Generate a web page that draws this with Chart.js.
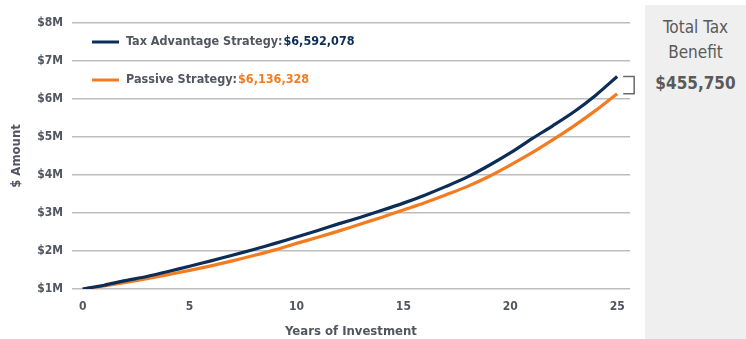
<!DOCTYPE html>
<html>
<head>
<meta charset="utf-8">
<script src="https://cdn.jsdelivr.net/npm/chart.js@4/dist/chart.umd.min.js"></script>
<style>
  html, body { margin: 0; padding: 0; background: #fff; }
  #wrap { position: relative; width: 746px; height: 339px; overflow: hidden; }
  #chartBox { position: absolute; left: 0; top: 0; width: 640px; height: 339px; }
  #side {
    position: absolute; left: 645px; top: 5px; width: 101px; height: 334px;
    background: #efefef; color: #5a5a5a; text-align: center;
    font-family: 'Liberation Sans Narrow', 'DejaVu Sans Condensed', sans-serif;
    font-size: 17px; line-height: 25px; padding-top: 10px; box-sizing: border-box;
  }
  #side .amt { font-weight: bold; display: block; margin-top: 6px; }
</style>
</head>
<body>
<div id="wrap">
  <div id="chartBox"><canvas id="c" width="640" height="339"></canvas></div>
  <div id="side">Total Tax<br>Benefit<span class="amt" id="benefit"></span></div>
</div>
<script>
// Years 0..25 of investment
const years = [0,1,2,3,4,5,6,7,8,9,10,11,12,13,14,15,16,17,18,19,20,21,22,23,24,25];
// Portfolio value in $ millions
const taxAdvantage = [1.00,1.10,1.22,1.33,1.46,1.60,1.74,1.89,2.04,2.20,2.37,2.54,2.72,2.89,3.07,3.26,3.47,3.70,3.95,4.25,4.58,4.95,5.30,5.67,6.10,6.592078];
const passive      = [1.00,1.08,1.17,1.27,1.38,1.49,1.61,1.74,1.88,2.03,2.20,2.36,2.53,2.71,2.89,3.08,3.27,3.48,3.70,3.96,4.26,4.58,4.93,5.30,5.70,6.136328];
const seriesNames  = ['Tax Advantage Strategy: ', 'Passive Strategy: '];
const finalValues  = [6592078, 6136328];
const xTicks = [0,5,10,15,20,25];
const yTicks = [1,2,3,4,5,6,7,8];

const NAVY = '#0c2d58';
const ORANGE = '#f47c20';
const GREY_TEXT = '#525660';
const FONT = "'Liberation Sans Narrow', 'DejaVu Sans Condensed', sans-serif";

const fmt = v => '$' + v.toLocaleString('en-US');
document.getElementById('benefit').textContent = fmt(finalValues[0] - finalValues[1]);

const toPoints = arr => arr.map((v, i) => ({ x: years[i], y: v }));

// Legend with two-tone text plus the bracket marking the end gap
const overlay = {
  id: 'overlay',
  afterDraw(chart) {
    const ctx = chart.ctx;
    const colors = [NAVY, ORANGE];
    const rowsY = [chart.scales.y.getPixelForValue(7.5), chart.scales.y.getPixelForValue(6.5)];
    ctx.save();
    ctx.font = "bold 12.5px " + FONT;
    ctx.textBaseline = 'middle';
    for (let i = 0; i < 2; i++) {
      const y = rowsY[i];
      ctx.strokeStyle = colors[i];
      ctx.lineWidth = 3;
      ctx.beginPath(); ctx.moveTo(92, y); ctx.lineTo(119, y); ctx.stroke();
      ctx.fillStyle = GREY_TEXT;
      ctx.fillText(seriesNames[i], 126, y);
      const w = ctx.measureText(seriesNames[i]).width;
      ctx.fillStyle = colors[i];
      ctx.fillText(fmt(finalValues[i]), 126 + w - 3, y);
    }
    // bracket
    const xs = chart.scales.x, ys = chart.scales.y;
    const xe = xs.getPixelForValue(years[years.length - 1]);
    const y1 = ys.getPixelForValue(taxAdvantage[taxAdvantage.length - 1]);
    const y2 = ys.getPixelForValue(passive[passive.length - 1]);
    ctx.strokeStyle = '#6a6a6a';
    ctx.lineWidth = 1.5;
    ctx.beginPath();
    ctx.moveTo(xe + 6, y1); ctx.lineTo(xe + 17, y1); ctx.lineTo(xe + 17, y2); ctx.lineTo(xe + 6, y2);
    ctx.stroke();
    ctx.restore();
  }
};

new Chart(document.getElementById('c'), {
  type: 'line',
  data: {
    datasets: [
      { label: seriesNames[0], data: toPoints(taxAdvantage), borderColor: NAVY, borderWidth: 3.2, pointRadius: 0, tension: 0.3, fill: false },
      { label: seriesNames[1], data: toPoints(passive), borderColor: ORANGE, borderWidth: 3.2, pointRadius: 0, tension: 0.3, fill: false }
    ]
  },
  options: {
    responsive: false,
    animation: false,
    layout: { padding: { top: 23, right: 10, bottom: 0, left: 0 } },
    plugins: { legend: { display: false }, tooltip: { enabled: false } },
    scales: {
      x: {
        type: 'linear', min: -0.5, max: 25.6,
        afterBuildTicks: s => { s.ticks = xTicks.map(v => ({ value: v })); },
        afterFit: s => { s.height = 50; },
        grid: { display: false, drawTicks: false },
        border: { display: false },
        ticks: { color: GREY_TEXT, font: { family: FONT, size: 12, weight: 'bold' }, padding: 11, maxRotation: 0 },
        title: { display: true, text: 'Years of Investment', color: GREY_TEXT, font: { family: FONT, size: 13, weight: 'bold' }, padding: { top: 0, bottom: 0 } }
      },
      y: {
        min: 1, max: 8,
        afterBuildTicks: s => { s.ticks = yTicks.map(v => ({ value: v })); },
        afterFit: s => { s.width = 72; },
        grid: { color: '#bdbdbd', lineWidth: 1.5, drawTicks: false },
        border: { display: false },
        ticks: { color: GREY_TEXT, font: { family: FONT, size: 12, weight: 'bold' }, padding: 9, callback: v => '$' + v + 'M' },
        title: { display: true, text: '$ Amount', color: GREY_TEXT, font: { family: FONT, size: 13, weight: 'bold' }, padding: { top: 9, bottom: 0 } }
      }
    }
  },
  plugins: [overlay]
});
</script>
</body>
</html>
